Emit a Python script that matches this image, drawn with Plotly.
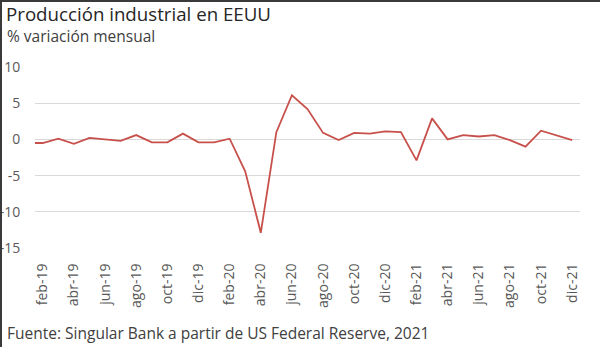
import plotly.graph_objects as go

# Monthly change in US industrial production (%), Jan-2019 .. Dec-2021
months = [
    "ene-19", "feb-19", "mar-19", "abr-19", "may-19", "jun-19", "jul-19", "ago-19",
    "sep-19", "oct-19", "nov-19", "dic-19",
    "ene-20", "feb-20", "mar-20", "abr-20", "may-20", "jun-20", "jul-20", "ago-20",
    "sep-20", "oct-20", "nov-20", "dic-20",
    "ene-21", "feb-21", "mar-21", "abr-21", "may-21", "jun-21", "jul-21", "ago-21",
    "sep-21", "oct-21", "nov-21", "dic-21",
]
variacion = [
    -0.5, -0.5, 0.1, -0.6, 0.2, 0.0, -0.2, 0.6,
    -0.4, -0.4, 0.8, -0.4,
    -0.4, 0.1, -4.4, -12.9, 1.0, 6.1, 4.2, 0.9,
    -0.1, 0.9, 0.8, 1.1,
    1.0, -2.9, 2.9, 0.0, 0.6, 0.4, 0.6, -0.1,
    -1.0, 1.2, 0.6, -0.1,
]
x_ticks = ["feb-19", "abr-19", "jun-19", "ago-19", "oct-19", "dic-19",
           "feb-20", "abr-20", "jun-20", "ago-20", "oct-20", "dic-20",
           "feb-21", "abr-21", "jun-21", "ago-21", "oct-21", "dic-21"]
y_ticks = [10, 5, 0, -5, -10, -15]

W, H = 600, 347
L, R, T, B = 35, 20, 67, 99
plot_w = W - L - R
plot_h = H - T - B

FONT = "'Open Sans', Lato, sans-serif"

fig = go.Figure()
fig.add_trace(go.Scatter(
    x=months, y=variacion, mode="lines",
    line=dict(color="#C8504B", width=1.8),
    hoverinfo="x+y", showlegend=False,
))

fig.update_layout(
    width=W, height=H,
    margin=dict(l=L, r=R, t=T, b=B),
    paper_bgcolor="white", plot_bgcolor="white",
    font=dict(family=FONT, color="#595959"),
    title=dict(
        text="Producción industrial en EEUU",
        x=6 / W, xanchor="left", xref="container",
        y=1 - 14 / H, yanchor="middle", yref="container",
        font=dict(family=FONT, size=18.7, color="#262626"),
    ),
    xaxis=dict(
        type="category",
        range=[0.5, len(months) - 0.5],
        tickmode="array", tickvals=x_ticks, ticktext=x_ticks,
        tickangle=-90,
        tickfont=dict(size=14, color="#595959"),
        ticks="outside", ticklen=9, tickcolor="rgba(0,0,0,0)",
        showgrid=False, showline=False, zeroline=False,
        automargin=False,
    ),
    yaxis=dict(
        range=[-15, 10],
        tickmode="array", tickvals=y_ticks, ticktext=[str(v) for v in y_ticks],
        tickfont=dict(size=14, color="#595959"),
        ticks="outside", ticklen=11, tickcolor="rgba(0,0,0,0)",
        showgrid=True, gridcolor="#D9D9D9", gridwidth=1,
        zeroline=False, showline=False,
        automargin=False,
    ),
    annotations=[
        dict(
            text="% variación mensual",
            xref="paper", yref="paper",
            x=-(L - 5) / plot_w, y=1 + (T - 36) / plot_h,
            xanchor="left", yanchor="middle", showarrow=False,
            font=dict(family=FONT, size=15.5, color="#404040"),
        ),
        dict(
            text="Fuente: Singular Bank a partir de US Federal Reserve, 2021",
            xref="paper", yref="paper",
            x=-(L - 5) / plot_w, y=-(333 - (H - B)) / plot_h,
            xanchor="left", yanchor="middle", showarrow=False,
            font=dict(family=FONT, size=15.5, color="#404040"),
        ),
    ],
    shapes=[
        # frame edges on the left and top of the figure
        dict(type="line", xref="paper", yref="paper",
             x0=-(L - 1) / plot_w, x1=-(L - 1) / plot_w,
             y0=-B / plot_h, y1=1 + T / plot_h,
             line=dict(color="#3a3a3a", width=2)),
        dict(type="line", xref="paper", yref="paper",
             x0=-L / plot_w, x1=1 + R / plot_w,
             y0=1 + (T - 1) / plot_h, y1=1 + (T - 1) / plot_h,
             line=dict(color="#3a3a3a", width=2)),
    ],
)

fig.write_html("out.html")
